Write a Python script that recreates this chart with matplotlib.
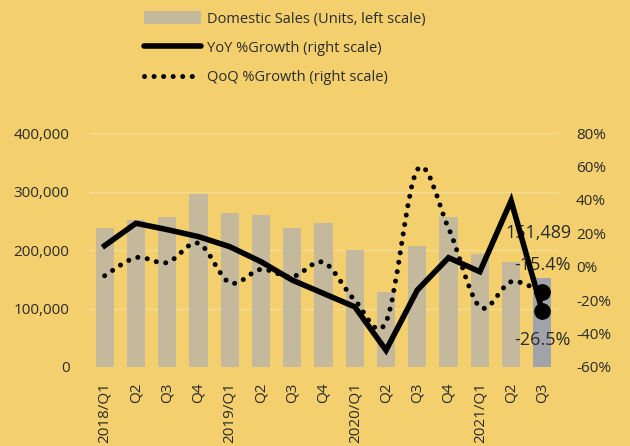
import numpy as np
import matplotlib
matplotlib.use("Agg")
import matplotlib.pyplot as plt
from matplotlib.path import Path
from matplotlib.patches import PathPatch
from matplotlib.lines import Line2D
from matplotlib.patches import Patch
from matplotlib.ticker import FuncFormatter

quarters = ["2018/Q1", "Q2", "Q3", "Q4", "2019/Q1", "Q2", "Q3", "Q4",
            "2020/Q1", "Q2", "Q3", "Q4", "2021/Q1", "Q2", "Q3"]
sales = [237000, 251000, 257000, 296000, 264000, 260000, 238000, 245500,
         200000, 128000, 206000, 257000, 194000, 179000, 151489]
yoy = [12.6, 26.0, 22.2, 18.0, 12.0, 3.0, -8.0, -16.0,
       -24.0, -50.0, -14.0, 5.4, -3.0, 39.5, -26.5]
qoq = [-5.4, 5.4, 2.5, 14.0, -9.6, -1.6, -6.0, 2.6,
       -20.0, -33.0, 58.0, 23.0, -24.0, -9.0, -15.4]

BG = "#F3CF6E"
BAR = "#C4B99C"
BAR_LAST = "#A0A3AA"
TXT = "#2b2b2b"
FONT = "Open Sans"
plt.rcParams['font.family'] = [FONT, 'DejaVu Sans']

fig = plt.figure(figsize=(6.3, 4.46), dpi=100, facecolor=BG)
ax = fig.add_axes([89/630, 1-367/446, (558-89)/630, (367-133)/446])
ax.set_facecolor(BG)
ax2 = ax.twinx()

x = np.arange(len(quarters))
colors = [BAR]*(len(x)-1) + [BAR_LAST]
ax.bar(x, sales, width=0.58, color=colors, zorder=2)
ax.set_ylim(0, 400000)
ax.set_yticks(np.arange(0, 400001, 100000))
ax.yaxis.set_major_formatter(FuncFormatter(lambda v, p: f"{int(v):,}"))
ax.set_xlim(-0.5, len(x)-0.5)
ax.set_xticks(x)
ax.set_xticklabels(quarters, rotation=90, fontsize=11, color=TXT)
ax.grid(axis='y', color="#F7DC95", linewidth=1, zorder=0)
ax.set_axisbelow(True)
for s in ax.spines.values():
    s.set_visible(False)
for s in ax2.spines.values():
    s.set_visible(False)
ax.tick_params(axis='both', length=0, labelsize=11, colors=TXT)
ax.tick_params(axis='y', pad=14)
ax.tick_params(axis='x', pad=11)

ax2.set_ylim(-60, 80)
ax2.set_yticks(np.arange(-60, 81, 20))
ax2.yaxis.set_major_formatter(FuncFormatter(lambda v, p: f"{int(v)}%"))
ax2.tick_params(axis='y', length=0, labelsize=11, colors=TXT, pad=13)

# YoY line
ax2.plot(x, yoy, color="black", linewidth=4, solid_joinstyle='miter', zorder=4)

# QoQ smoothed dotted line (Catmull-Rom through data points)
px = np.array(x, dtype=float)
py = np.array(qoq, dtype=float)
verts = [(px[0], py[0])]
codes = [Path.MOVETO]
n = len(px)
for i in range(n-1):
    p0 = (px[max(i-1, 0)], py[max(i-1, 0)])
    p1 = (px[i], py[i])
    p2 = (px[i+1], py[i+1])
    p3 = (px[min(i+2, n-1)], py[min(i+2, n-1)])
    c1 = (p1[0] + (p2[0]-p0[0])/6, p1[1] + (p2[1]-p0[1])/6)
    c2 = (p2[0] - (p3[0]-p1[0])/6, p2[1] - (p3[1]-p1[1])/6)
    verts += [c1, c2, p2]
    codes += [Path.CURVE4]*3
DOT = (0, (0.01, 1.9))
patch = PathPatch(Path(verts, codes), facecolor='none', edgecolor='black',
                  linewidth=3.6, linestyle=DOT, capstyle='round', zorder=4)
ax2.add_patch(patch)

# End markers
ax2.plot([x[-1]], [yoy[-1]], 'o', color='black', markersize=11, zorder=5)
ax2.plot([x[-1]], [qoq[-1]], 'o', color='black', markersize=11, zorder=5)

# Annotations
ax.annotate(f"{sales[-1]:,}", xy=(x[-1], sales[-1]), xytext=(-3, 33),
            textcoords='offset points', ha='center', va='center', fontsize=13, color=TXT, zorder=6)
ax2.annotate(f"{qoq[-1]:.1f}%", xy=(x[-1], qoq[-1]), xytext=(0, 20),
             textcoords='offset points', ha='center', va='center', fontsize=13, color=TXT, zorder=6)
ax2.annotate(f"{yoy[-1]:.1f}%", xy=(x[-1], yoy[-1]), xytext=(0, -21),
             textcoords='offset points', ha='center', va='center', fontsize=13, color=TXT, zorder=6)

handles = [Patch(facecolor=BAR, edgecolor='none'),
           Line2D([0], [0], color='black', linewidth=4, solid_capstyle='round'),
           Line2D([0], [0], color='black', linewidth=3.6, linestyle=DOT,
                  dash_capstyle='round')]
labels = ["Domestic Sales (Units, left scale)", "YoY %Growth (right scale)",
          "QoQ %Growth (right scale)"]
leg = fig.legend(handles, labels, loc='upper left', bbox_to_anchor=(131/630, 1+2/446),
                 frameon=False, fontsize=10.5, handlelength=3.9, handleheight=1.0,
                 labelspacing=0.95, handletextpad=0.4, labelcolor=TXT)

fig.savefig("out.png", dpi=100, facecolor=BG)
